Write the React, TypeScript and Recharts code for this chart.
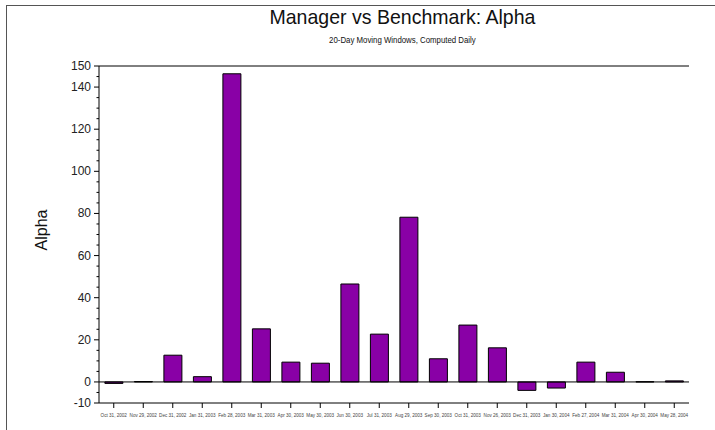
import React from 'react';
import { BarChart, Bar, XAxis, YAxis, ReferenceLine } from 'recharts';

const dates = [
  'Oct 31, 2002', 'Nov 29, 2002', 'Dec 31, 2002', 'Jan 31, 2003', 'Feb 28, 2003',
  'Mar 31, 2003', 'Apr 30, 2003', 'May 30, 2003', 'Jun 30, 2003', 'Jul 31, 2003',
  'Aug 29, 2003', 'Sep 30, 2003', 'Oct 31, 2003', 'Nov 26, 2003', 'Dec 31, 2003',
  'Jan 30, 2004', 'Feb 27, 2004', 'Mar 31, 2004', 'Apr 30, 2004', 'May 28, 2004',
];
const alpha = [
  -0.7, 0.2, 12.7, 2.5, 146.3, 25.2, 9.4, 8.9, 46.5, 22.7,
  78.2, 11, 27, 16.2, -4, -2.9, 9.4, 4.6, 0.1, 0.5,
];
const majorTicks = [150, 140, 120, 100, 80, 60, 40, 20, 0, -10];
const allTicks = [
  -10, -5, 0, 5, 10, 15, 20, 25, 30, 35, 40, 45, 50, 55, 60, 65, 70, 75, 80,
  85, 90, 95, 100, 105, 110, 115, 120, 125, 130, 135, 140, 145, 150,
];

const data = dates.map((d, i) => ({ date: d, alpha: alpha[i] }));

const PLOT_LEFT = 99;

const YTick = (props: any) => {
  const { y, payload } = props;
  const major = majorTicks.includes(payload.value);
  const len = major ? 5 : 2.5;
  return (
    <g>
      <line x1={PLOT_LEFT - len} x2={PLOT_LEFT} y1={y} y2={y} stroke="#000" strokeWidth={1} />
      {major && (
        <text x={PLOT_LEFT - 8} y={y} dy={4} textAnchor="end" fontSize={12} fill="#222">
          {payload.value}
        </text>
      )}
    </g>
  );
};

export default function App() {
  return (
    <div
      style={{
        position: 'absolute',
        left: 0,
        top: 0,
        width: 715,
        height: 430,
        background: '#fff',
        fontFamily: '"Liberation Sans", Arial, sans-serif',
      }}
    >
      <div
        style={{
          position: 'absolute',
          left: 6,
          top: 5,
          width: 709,
          height: 425,
          borderLeft: '1px solid #555',
          borderTop: '1px solid #555',
        }}
      />
      <div
        style={{
          position: 'absolute',
          left: 0,
          width: 805,
          top: 5,
          textAlign: 'center',
          fontSize: 21,
          transform: 'scaleX(0.93)',
          transformOrigin: '402px 0',
          color: '#111',
        }}
      >
        Manager vs Benchmark: Alpha
      </div>
      <div
        style={{
          position: 'absolute',
          left: 0,
          width: 805,
          top: 35,
          textAlign: 'center',
          fontSize: 9,
          transform: 'scaleX(0.87)',
          transformOrigin: '402px 0',
          color: '#111',
        }}
      >
        20-Day Moving Windows, Computed Daily
      </div>
      <div
        style={{
          position: 'absolute',
          left: 42,
          top: 230,
          transform: 'translate(-50%, -50%) rotate(-90deg)',
          fontSize: 16,
          color: '#111',
        }}
      >
        Alpha
      </div>
      <BarChart
        width={715}
        height={430}
        data={data}
        margin={{ top: 66, right: 26, bottom: 7, left: 39 }}
        barCategoryGap="20%"
        style={{ position: 'absolute', left: 0, top: 0 }}
      >
        <XAxis
          dataKey="date"
          interval={0}
          tick={{ fontSize: 4.6, fill: '#444', dy: 4 }}
          tickSize={5}
          tickLine={{ stroke: '#000' }}
          axisLine={{ stroke: '#000' }}
          height={20}
        />
        <YAxis
          domain={[-10, 150]}
          ticks={allTicks}
          interval={0}
          width={60}
          tick={<YTick />}
          tickLine={false}
          axisLine={{ stroke: '#000' }}
          allowDataOverflow
        />
        <YAxis
          yAxisId="right"
          orientation="right"
          domain={[-10, 150]}
          width={0}
          tick={false}
          tickLine={false}
          axisLine={{ stroke: '#000' }}
        />
        <ReferenceLine y={150} stroke="#000" />
        <ReferenceLine y={0} stroke="#000" />
        <Bar dataKey="alpha" fill="#8900A6" stroke="#000" strokeWidth={1} isAnimationActive={false} />
      </BarChart>
    </div>
  );
}
